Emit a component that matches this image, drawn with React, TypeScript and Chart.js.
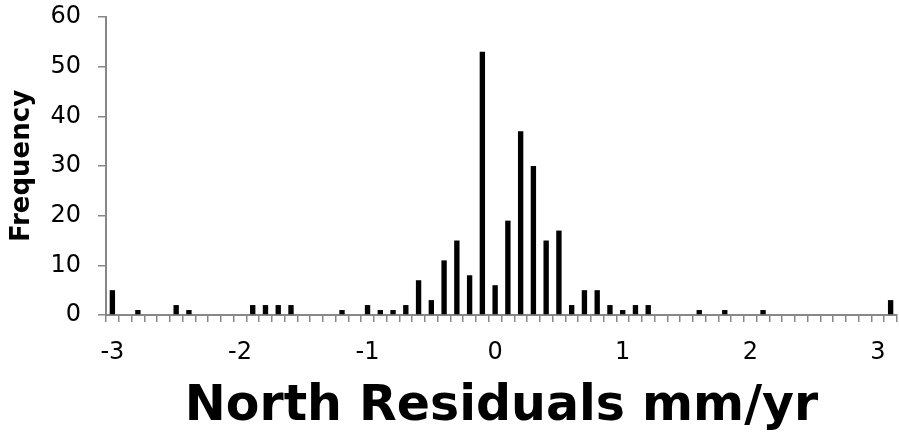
import React, { useEffect, useRef } from "react";
import { Chart, registerables } from "chart.js";

Chart.register(...registerables);

const categories = [
  "-3.0", "-2.9", "-2.8", "-2.7", "-2.6", "-2.5", "-2.4", "-2.3", "-2.2", "-2.1",
  "-2.0", "-1.9", "-1.8", "-1.7", "-1.6", "-1.5", "-1.4", "-1.3", "-1.2", "-1.1",
  "-1.0", "-0.9", "-0.8", "-0.7", "-0.6", "-0.5", "-0.4", "-0.3", "-0.2", "-0.1",
  "0.0", "0.1", "0.2", "0.3", "0.4", "0.5", "0.6", "0.7", "0.8", "0.9",
  "1.0", "1.1", "1.2", "1.3", "1.4", "1.5", "1.6", "1.7", "1.8", "1.9",
  "2.0", "2.1", "2.2", "2.3", "2.4", "2.5", "2.6", "2.7", "2.8", "2.9",
  "3.0", "3.1",
];

const frequency = [
  5, 0, 1, 0, 0, 2, 1, 0, 0, 0,
  0, 2, 2, 2, 2, 0, 0, 0, 1, 0,
  2, 1, 1, 2, 7, 3, 11, 15, 8, 53,
  6, 19, 37, 30, 15, 17, 2, 5, 5, 2,
  1, 2, 2, 0, 0, 0, 1, 0, 1, 0,
  0, 1, 0, 0, 0, 0, 0, 0, 0, 0,
  0, 3,
];

const xTickLabels = ["-3", "-2", "-1", "0", "1", "2", "3"];
const yTicks = [0, 10, 20, 30, 40, 50, 60];

const FONT = "'DejaVu Sans', Verdana, sans-serif";
const AXIS_GRAY = "#878787";

export default function App() {
  const canvasRef = useRef<HTMLCanvasElement | null>(null);

  useEffect(() => {
    const canvas = canvasRef.current;
    if (!canvas) return;
    const chart = new Chart(canvas, {
      type: "bar",
      data: {
        labels: categories,
        datasets: [
          {
            label: "Frequency",
            data: frequency,
            backgroundColor: "#000000",
            borderWidth: 0,
            barPercentage: 0.42,
            categoryPercentage: 1,
          },
        ],
      },
      options: {
        responsive: false,
        animation: false,
        layout: { padding: { left: 0, right: 2, top: 17, bottom: 0 } },
        plugins: {
          legend: { display: false },
          tooltip: { enabled: false },
        },
        scales: {
          x: {
            type: "category",
            offset: true,
            grid: {
              offset: true,
              drawOnChartArea: false,
              drawTicks: true,
              tickLength: 7,
              color: AXIS_GRAY,
              lineWidth: 1.5,
            },
            border: { display: true, color: AXIS_GRAY, width: 2 },
            ticks: {
              autoSkip: false,
              maxRotation: 0,
              minRotation: 0,
              padding: 16,
              color: "#000000",
              font: { family: FONT, size: 24 },
              callback: (_v: any, index: number) =>
                index % 10 === 0 ? xTickLabels[index / 10] ?? "" : "",
            },
            title: {
              display: true,
              text: "North Residuals mm/yr",
              color: "#000000",
              font: { family: FONT, size: 49, weight: "bold", lineHeight: 1.0 },
              padding: { top: 0, bottom: 0 },
            },
            afterFit: (scale: any) => {
              scale.height = 117;
              scale.paddingLeft = 0;
              scale.paddingRight = 0;
            },
          },
          y: {
            min: 0,
            max: 60,
            afterBuildTicks: (scale: any) => {
              scale.ticks = yTicks.map((v) => ({ value: v }));
            },
            grid: {
              drawOnChartArea: false,
              drawTicks: true,
              tickLength: 8,
              color: AXIS_GRAY,
              lineWidth: 1.5,
            },
            border: { display: true, color: AXIS_GRAY, width: 2 },
            ticks: {
              padding: 17,
              color: "#000000",
              font: { family: FONT, size: 24 },
            },
            title: {
              display: true,
              text: "Frequency",
              color: "#000000",
              font: { family: FONT, size: 26, weight: "bold" },
              padding: { top: 7, bottom: 0 },
            },
            afterFit: (scale: any) => {
              scale.width = 106;
              scale.paddingTop = 0;
              scale.paddingBottom = 0;
            },
          },
        },
      },
    });
    return () => chart.destroy();
  }, []);

  return (
    <div style={{ position: "absolute", left: 0, top: 0, width: 899, height: 432, background: "#fff" }}>
      <canvas ref={canvasRef} width={899} height={432} style={{ display: "block" }} />
    </div>
  );
}
